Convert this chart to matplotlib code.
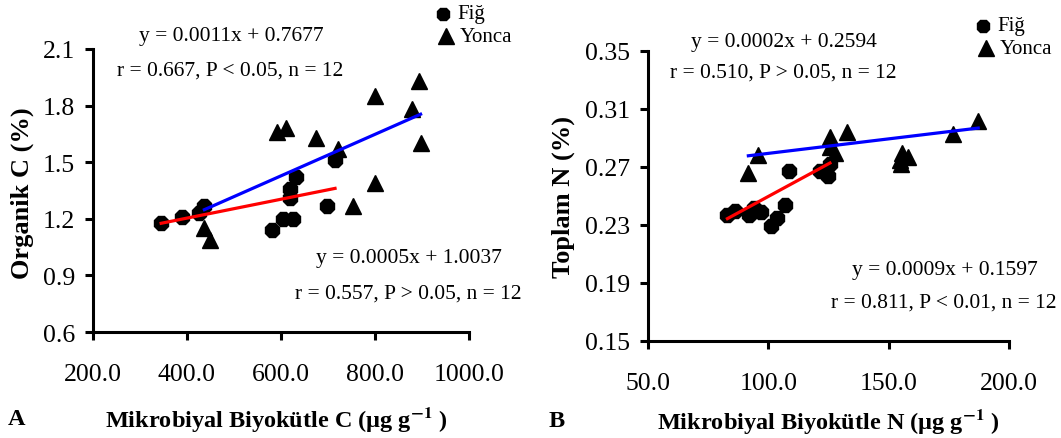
import numpy as np
import matplotlib
matplotlib.use("Agg")
import matplotlib.pyplot as plt

plt.rcParams['font.family'] = ['Liberation Serif', 'DejaVu Serif']
plt.rcParams['mathtext.fontset'] = 'stix'

# panel A: organik C vs mikrobiyal biyokutle C
a_fig_x = [345, 390, 425, 436, 580, 605, 626, 619, 619, 632, 697, 715]
a_fig_y = [1.18, 1.21, 1.23, 1.27, 1.14, 1.20, 1.20, 1.36, 1.31, 1.42, 1.27, 1.51]
a_yon_x = [437, 449, 591, 611, 674, 721, 754, 801, 801, 878, 894, 897]
a_yon_y = [1.15, 1.09, 1.66, 1.68, 1.63, 1.57, 1.27, 1.85, 1.39, 1.78, 1.93, 1.60]
a_fig_fit = (0.0005, 1.0037)
a_yon_fit = (0.0011, 0.7677)

# panel B: toplam N vs mikrobiyal biyokutle N
b_fig_x = [83, 86, 92, 94, 97, 101, 103.5, 107, 108.6, 121.5, 124.6, 125.6]
b_fig_y = [0.237, 0.240, 0.237, 0.242, 0.239, 0.229, 0.235, 0.244, 0.267, 0.267, 0.264, 0.272]
b_yon_x = [91.7, 95.8, 125.6, 125.6, 127.7, 132.5, 154.7, 155.4, 158.1, 155, 176.9, 187.2]
b_yon_y = [0.266, 0.278, 0.291, 0.284, 0.280, 0.294, 0.275, 0.280, 0.277, 0.272, 0.293, 0.302]
b_fig_fit = (0.0009, 0.1597)
b_yon_fit = (0.0002, 0.2594)

a_xticks = [200, 400, 600, 800, 1000]
a_yticks = [0.6, 0.9, 1.2, 1.5, 1.8, 2.1]
b_xticks = [50, 100, 150, 200]
b_yticks = [0.15, 0.19, 0.23, 0.27, 0.31, 0.35]

W, H = 1061, 439
fig = plt.figure(figsize=(W / 100, H / 100), dpi=100)


def fx(px):
    return px / W


def fy(py):
    return 1 - py / H


def panel(rect, fx_, fy_, yx_, yy_, ffit, yfit, xt, yt, xfmt, yfmt):
    ax = fig.add_axes(rect)
    ax.plot(fx_, fy_, ls='none', marker='8', ms=11, color='black')
    ax.plot(yx_, yy_, ls='none', marker='^', ms=12, color='black')
    x1 = np.array([min(yx_), max(yx_)])
    ax.plot(x1, yfit[0] * x1 + yfit[1], color='blue', lw=2.3)
    x2 = np.array([min(fx_), max(fx_)])
    ax.plot(x2, ffit[0] * x2 + ffit[1], color='red', lw=2.3)
    ax.set_xlim(xt[0], xt[-1])
    ax.set_ylim(yt[0], yt[-1])
    ax.set_xticks(xt)
    ax.set_yticks(yt)
    ax.set_xticklabels([xfmt % v for v in xt])
    ax.set_yticklabels([yfmt % v for v in yt])
    for s in ['top', 'right']:
        ax.spines[s].set_visible(False)
    for s in ['left', 'bottom']:
        ax.spines[s].set_linewidth(2.2)
    ax.tick_params(axis='both', width=2.2, length=6, labelsize=18.5, colors='black')
    ax.tick_params(axis='x', pad=16)
    ax.tick_params(axis='y', pad=7)
    return ax


panel([fx(93), fy(333), fx(469) - fx(93), fy(50) - fy(333)],
      a_fig_x, a_fig_y, a_yon_x, a_yon_y, a_fig_fit, a_yon_fit,
      a_xticks, a_yticks, '%.1f', '%.1f')
panel([fx(648), fy(342), fx(1009) - fx(648), fy(52) - fy(342)],
      b_fig_x, b_fig_y, b_yon_x, b_yon_y, b_fig_fit, b_yon_fit,
      b_xticks, b_yticks, '%.1f', '%.2f')

eq = dict(fontsize=15.5, ha='center', va='center')
fig.text(fx(231), fy(37), 'y = 0.0011x + 0.7677', **eq)
fig.text(fx(230), fy(71), 'r = 0.667, P < 0.05, n = 12', **eq)
fig.text(fx(409), fy(259), 'y = 0.0005x + 1.0037', **eq)
fig.text(fx(408), fy(294), 'r = 0.557, P > 0.05, n = 12', **eq)
fig.text(fx(784), fy(42), 'y = 0.0002x + 0.2594', **eq)
fig.text(fx(783), fy(73), 'r = 0.510, P > 0.05, n = 12', **eq)
fig.text(fx(945), fy(270), 'y = 0.0009x + 0.1597', **eq)
fig.text(fx(944), fy(303), 'r = 0.811, P < 0.01, n = 12', **eq)

# legends drawn as markers + text
for lx, ly in [(443, 15), (983, 27)]:
    fig.lines.append(plt.Line2D([fx(lx)], [fy(ly)], marker='8', ms=10, color='black',
                                transform=fig.transFigure))
    fig.lines.append(plt.Line2D([fx(lx + 3)], [fy(ly + 22)], marker='^', ms=11, color='black',
                                transform=fig.transFigure))
    fig.text(fx(lx + 14), fy(ly), 'Fiğ', fontsize=15, va='center')
    fig.text(fx(lx + 17), fy(ly + 22), 'Yonca', fontsize=15, va='center')

lab = dict(fontsize=17.5, fontweight='bold', ha='center', va='center')
fig.text(fx(276), fy(420), 'Mikrobiyal Biyokütle C (µg g$^{\\mathbf{-1}}$ )', **lab)
fig.text(fx(828), fy(422), 'Mikrobiyal Biyokütle N (µg g$^{\\mathbf{-1}}$ )', **lab)
fig.text(fx(22), fy(193), 'Organik C (%)', rotation=90, fontsize=19, fontweight='bold',
         ha='center', va='center')
fig.text(fx(563), fy(197), 'Toplam N (%)', rotation=90, fontsize=19, fontweight='bold',
         ha='center', va='center')
fig.text(fx(17), fy(420), 'A', **lab)
fig.text(fx(557), fy(422), 'B', **lab)

fig.savefig('out.png', dpi=100)
